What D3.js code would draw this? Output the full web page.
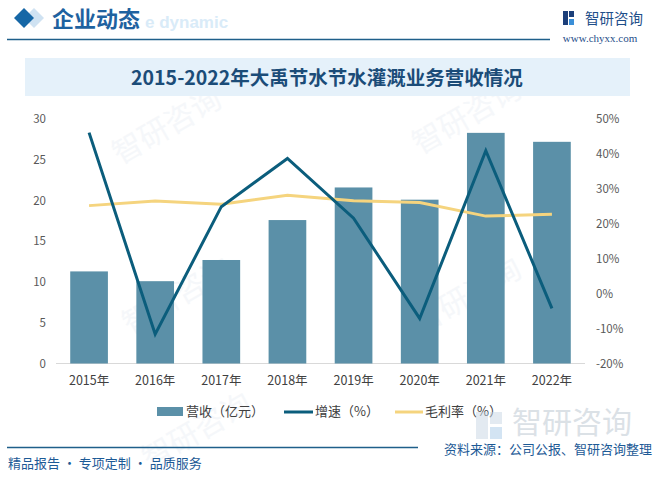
<!DOCTYPE html>
<html><head><meta charset="utf-8">
<script src="https://cdn.jsdelivr.net/npm/d3@7/dist/d3.min.js"></script>
<style>html,body{margin:0;padding:0;background:#fff;}svg{display:block;}</style>
</head><body>
<script>
const years = ["2015年","2016年","2017年","2018年","2019年","2020年","2021年","2022年"];
const revenue = [11.3, 10.1, 12.7, 17.6, 21.6, 20.1, 28.3, 27.2];
const growth = [46.1, -11.6, 24.9, 38.7, 21.6, -7.1, 40.9, -4.2];
const margin = [25.2, 26.5, 25.6, 28.2, 26.6, 26.1, 22.2, 22.7];
const leftTicks = [0,5,10,15,20,25,30];
const rightTicks = [-20,-10,0,10,20,30,40,50];
const legendLabels = ["营收（亿元）","增速（%）","毛利率（%）"];
const chartTitle = "2015-2022年大禹节水节水灌溉业务营收情况";

const W=659,H=477;
const svg=d3.select("body").append("svg").attr("width",W).attr("height",H);
const sans="'Microsoft YaHei','Noto Sans CJK SC','Noto Sans',sans-serif";

// faint watermarks
const wm=svg.append("g").attr("fill","#eef2f6").attr("font-family",sans);
[[120,165],[420,155],[130,335],[420,335],[150,470]].forEach(([x,y])=>{
  wm.append("text").attr("transform",`translate(${x},${y}) rotate(-30)`).attr("font-size",30).attr("opacity",0.55).text("智研咨询");
});

// header
svg.append("text").attr("x",145).attr("y",28).attr("font-family","Arial,'Liberation Sans',sans-serif")
  .attr("font-weight","bold").attr("font-size",17).attr("fill","#d9ebf8").text("e dynamic");
svg.append("path").attr("d","M34,8 L44,18 L34,28 L24,18Z").attr("fill","#cfe2f2");
svg.append("path").attr("d","M24,8 L34,18 L24,28 L14,18Z").attr("fill","#1667a6");
svg.append("text").attr("x",52).attr("y",27).attr("font-family","'Noto Sans CJK SC',serif").attr("font-weight","bold")
  .attr("font-size",22).attr("fill","#1e62a0").text("企业动态");
svg.append("line").attr("x1",7).attr("x2",550).attr("y1",39.5).attr("y2",39.5).attr("stroke","#1f5f8a").attr("stroke-width",1.5);
// logo
const lg=svg.append("g").attr("transform","translate(563,11)");
lg.append("rect").attr("x",0).attr("y",0).attr("width",5).attr("height",14).attr("fill","#1c3f7a");
lg.append("rect").attr("x",6).attr("y",0).attr("width",5).attr("height",6).attr("fill","#1c3f7a");
lg.append("rect").attr("x",6).attr("y",8).attr("width",5).attr("height",6).attr("fill","#3a8fd8");
svg.append("text").attr("x",585).attr("y",24).attr("font-family",sans).attr("font-size",14.5).attr("fill","#1f4f8a").text("智研咨询");
svg.append("text").attr("x",600).attr("y",42).attr("text-anchor","middle").attr("font-family","'Liberation Serif',serif")
  .attr("font-size",11).attr("fill","#1f4f8a").text("www.chyxx.com");

// title box
svg.append("rect").attr("x",25).attr("y",58).attr("width",605).attr("height",38).attr("fill","#e5f1fa");
svg.append("text").attr("x",327).attr("y",85).attr("text-anchor","middle").attr("font-family","'Noto Sans CJK SC',serif")
  .attr("font-weight","bold").attr("font-size",19.5).attr("fill","#1b4c78").text(chartTitle);

// scales
const x=d3.scaleBand().domain(years).range([56,585]).paddingInner(0.43).paddingOuter(0.215);
const yL=d3.scaleLinear().domain([0,30]).range([363.5,119]);
const yR=d3.scaleLinear().domain([-20,50]).range([363.5,119]);

svg.append("line").attr("x1",56).attr("x2",585).attr("y1",363.5).attr("y2",363.5).attr("stroke","#d9d9d9");

const axL=svg.append("g").attr("transform","translate(46,0)").call(d3.axisLeft(yL).tickValues(leftTicks).tickSize(0).tickPadding(0));
const axR=svg.append("g").attr("transform","translate(596,0)").call(d3.axisRight(yR).tickValues(rightTicks).tickSize(0).tickPadding(0).tickFormat(d=>d+"%"));
const axB=svg.append("g").attr("transform","translate(0,363.5)").call(d3.axisBottom(x).tickSize(0).tickPadding(13));
[axL,axR,axB].forEach(a=>{a.select(".domain").remove();a.selectAll("text").attr("font-family",sans).attr("fill","#595959");});
axL.selectAll("text").attr("font-size",11.5);
axR.selectAll("text").attr("font-size",11.5);
axB.selectAll("text").attr("font-size",12.5).attr("fill","#404040");

svg.append("g").selectAll("rect").data(revenue).join("rect")
  .attr("x",(d,i)=>x(years[i])).attr("width",x.bandwidth())
  .attr("y",d=>yL(d)).attr("height",d=>yL(0)-yL(d)).attr("fill","#5b90a8");

const cx=(i)=>x(years[i])+x.bandwidth()/2;
svg.append("path").datum(margin).attr("fill","none").attr("stroke","#f5d47e").attr("stroke-width",3)
  .attr("d",d3.line().x((d,i)=>cx(i)).y(d=>yR(d)));
svg.append("path").datum(growth).attr("fill","none").attr("stroke","#0b5d7c").attr("stroke-width",3)
  .attr("d",d3.line().x((d,i)=>cx(i)).y(d=>yR(d)));

// legend
const leg=svg.append("g").attr("font-family",sans).attr("font-size",13).attr("fill","#404040");
leg.append("rect").attr("x",157).attr("y",407).attr("width",26).attr("height",9).attr("fill","#5b90a8");
leg.append("text").attr("x",186).attr("y",416).text(legendLabels[0]);
leg.append("line").attr("x1",284).attr("x2",313).attr("y1",412).attr("y2",412).attr("stroke","#0b5d7c").attr("stroke-width",3);
leg.append("text").attr("x",315).attr("y",416).text(legendLabels[1]);
leg.append("line").attr("x1",395).attr("x2",423).attr("y1",412).attr("y2",412).attr("stroke","#f5d47e").attr("stroke-width",3);
leg.append("text").attr("x",425).attr("y",416).text(legendLabels[2]);

// bottom watermark logo
const bw=svg.append("g").attr("opacity",0.5);
bw.append("rect").attr("x",476).attr("y",412).attr("width",12).attr("height",27).attr("fill","#c8d6e4");
bw.append("rect").attr("x",490).attr("y",412).attr("width",12).attr("height",12).attr("fill","#c8d6e4");
bw.append("rect").attr("x",490).attr("y",427).attr("width",12).attr("height",12).attr("fill","#a9cbe9");
bw.append("text").attr("x",512).attr("y",433).attr("font-family",sans).attr("font-size",30).attr("fill","#b8c4cf").text("智研咨询");

// footer
svg.append("line").attr("x1",7).attr("x2",418).attr("y1",447.5).attr("y2",447.5).attr("stroke","#1f5f8a").attr("stroke-width",1.5);
svg.append("text").attr("x",8).attr("y",468).attr("font-family",sans).attr("font-size",13).attr("fill","#1d5a96").text("精品报告 · 专项定制 · 品质服务");
svg.append("text").attr("x",652).attr("y",454).attr("text-anchor","end").attr("font-family",sans).attr("font-size",13).attr("fill","#1d5a96").text("资料来源：公司公报、智研咨询整理");
</script>
</body></html>
